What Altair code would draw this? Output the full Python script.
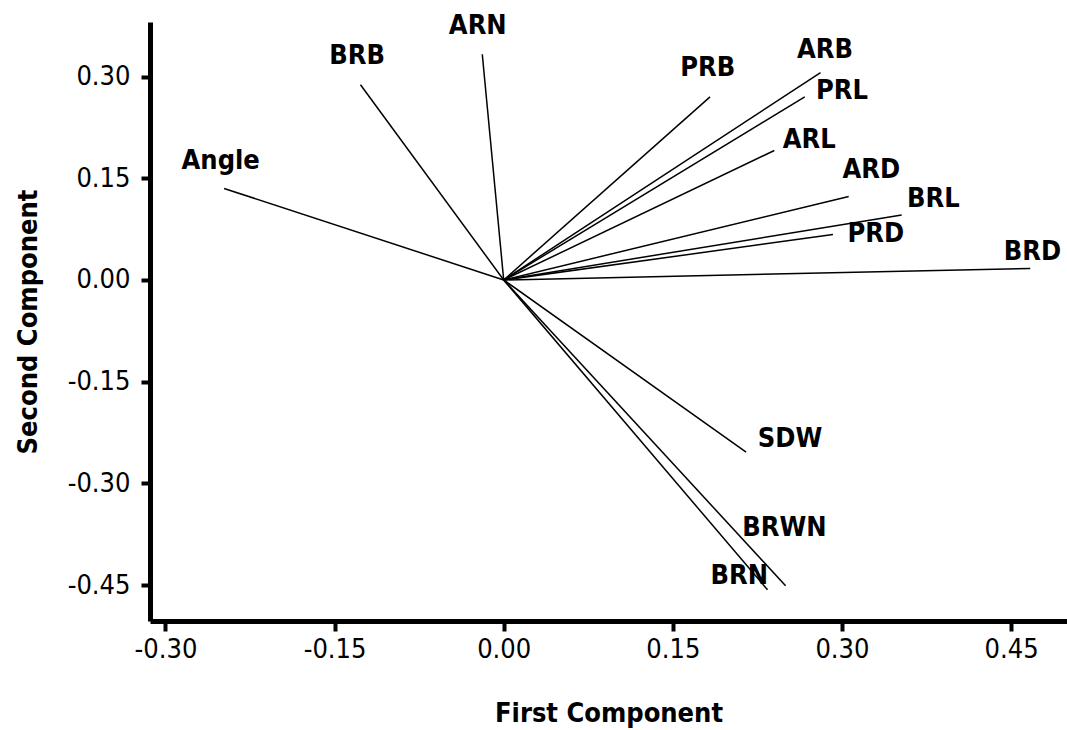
import altair as alt
import pandas as pd

# Variable names and loadings (first / second component)
variables = ["Angle", "BRB", "ARN", "PRB", "ARB", "PRL", "ARL", "ARD",
             "BRL", "PRD", "BRD", "SDW", "BRWN", "BRN"]
pc1 = [-0.248, -0.127, -0.019, 0.183, 0.281, 0.267, 0.240, 0.306,
       0.353, 0.292, 0.467, 0.215, 0.250, 0.234]
pc2 = [0.135, 0.288, 0.333, 0.270, 0.306, 0.270, 0.191, 0.123,
       0.096, 0.067, 0.017, -0.254, -0.451, -0.457]
# where each name is written (data units)
label_x = [-0.251, -0.130, -0.023, 0.181, 0.285, 0.300, 0.271, 0.326,
           0.381, 0.330, 0.469, 0.254, 0.249, 0.209]
label_y = [0.176, 0.330, 0.375, 0.312, 0.339, 0.278, 0.207, 0.162,
           0.119, 0.068, 0.041, -0.234, -0.366, -0.436]

x_ticks = [-0.30, -0.15, 0.00, 0.15, 0.30, 0.45]
y_ticks = [-0.45, -0.30, -0.15, 0.00, 0.15, 0.30]
x_domain = [-0.3137, 0.4996]
y_domain = [-0.503, 0.3805]

df = pd.DataFrame({"var": variables, "pc1": pc1, "pc2": pc2,
                   "lx": label_x, "ly": label_y})

FONT = "DejaVu Sans Condensed, DejaVu Sans"
lab = "replace(format(datum.value, '.2f'), '\u2212', '-')"

xscale = alt.Scale(domain=x_domain, nice=False, zero=False)
yscale = alt.Scale(domain=y_domain, nice=False, zero=False)

x_axis = alt.Axis(values=x_ticks, labelExpr=lab, title="First Component",
                  grid=False, domainWidth=5, domainColor="black",
                  tickSize=10, tickWidth=4, tickColor="black",
                  labelPadding=5, labelFontSize=27, labelFont=FONT,
                  labelColor="black", titleFont=FONT, titleFontSize=27,
                  titleFontWeight="bold", titleColor="black",
                  titleY=92, titleBaseline="middle")
y_axis = alt.Axis(values=y_ticks, labelExpr=lab, title="Second Component",
                  grid=False, domainWidth=5, domainColor="black",
                  tickSize=9, tickWidth=4, tickColor="black",
                  labelPadding=11, labelFontSize=27, labelFont=FONT,
                  labelColor="black", titleFont=FONT, titleFontSize=27,
                  titleFontWeight="bold", titleColor="black",
                  titleX=-122, titleBaseline="middle")

rules = alt.Chart(df).mark_rule(color="black", strokeWidth=1.5).encode(
    x=alt.X("pc1:Q", scale=xscale, axis=x_axis),
    y=alt.Y("pc2:Q", scale=yscale, axis=y_axis),
    x2=alt.datum(0),
    y2=alt.datum(0),
)

texts = alt.Chart(df).mark_text(font=FONT, fontSize=27, fontWeight="bold",
                                color="black", align="center",
                                baseline="middle").encode(
    x=alt.X("lx:Q", scale=xscale),
    y=alt.Y("ly:Q", scale=yscale),
    text="var:N",
)

chart = (rules + texts).properties(
    width=917, height=599,
    autosize=alt.AutoSizeParams(type="none"),
    padding={"left": 150, "top": 22, "right": 0, "bottom": 109},
    background="white",
).configure_view(stroke=None)

chart.save("out.html", embed_options={"renderer": "svg", "actions": False})
